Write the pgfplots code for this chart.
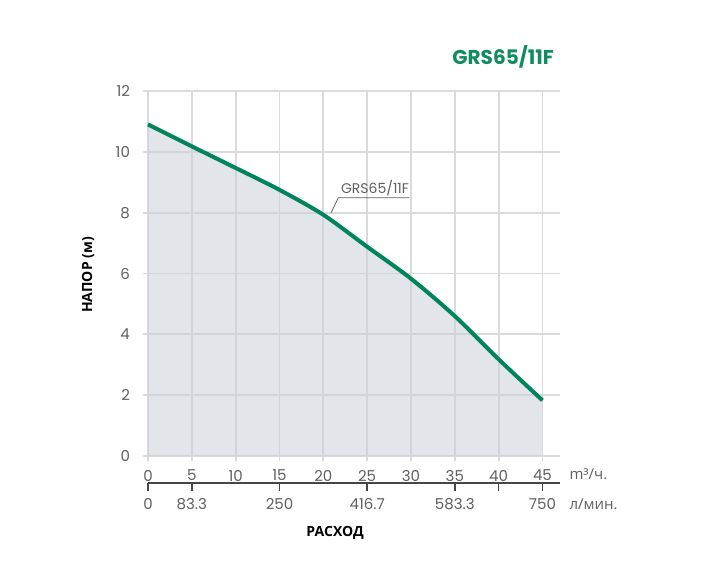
\documentclass[border=0pt]{standalone}
\usepackage{fontspec}
\setmainfont{Poppins}
\newfontfamily\cyr{Open Sans}
\usepackage{pgfplots}
\pgfplotsset{compat=1.18}
\definecolor{curvegreen}{RGB}{0,132,92}
\definecolor{titlegreen}{RGB}{16,140,96}
\definecolor{areafill}{RGB}{203,209,216}
\definecolor{gridgray}{RGB}{218,218,220}
\definecolor{labgray}{RGB}{95,95,95}
\definecolor{axisdark}{RGB}{70,70,70}

\begin{document}
\begin{tikzpicture}
\begin{axis}[
  at={(0,0)}, anchor=origin,
  scale only axis,
  width=206pt, height=182.5pt,
  xmin=0, xmax=47, ymin=0, ymax=12,
  xtick={0,5,10,15,20,25,30,35,40,45}, ytick={0,2,4,6,8,10,12},
  grid=major,
  grid style={gridgray, line width=0.9pt},
  axis line style={draw=none},
  tick style={gridgray, line width=0.9pt},
  tick align=outside, major tick length=2.5pt,
  tick pos=left,
  ticklabel style={font=\fontsize{7.5}{8}\selectfont, text=labgray},
  /pgf/number format/assume math mode=true,
  xticklabel style={yshift=-1pt},
  yticklabel style={xshift=-3pt},
  xlabel={\cyr\bfseries РАСХОД},
  xlabel style={at={(axis description cs:0.454,-0.211)}, anchor=center, font=\fontsize{7}{8}\selectfont},
  ylabel={\cyr\bfseries НАПОР (м)},
  ylabel style={at={(axis description cs:-0.145,0.496)}, anchor=center, font=\fontsize{7}{8}\selectfont},
  clip=false,
]
  % area under curve (semi-transparent so the grid shows through)
  \addplot[fill=areafill, fill opacity=0.56, draw=none, smooth] coordinates {
    (0,10.9) (5,10.18) (10,9.47) (15,8.75) (20,7.93) (25,6.88)
    (30,5.83) (35,4.6) (40,3.18) (45,1.83)
  } \closedcycle;
  % H-Q curve
  \addplot[curvegreen, line width=2pt, smooth] coordinates {
    (0,10.9) (5,10.18) (10,9.47) (15,8.75) (20,7.93) (25,6.88)
    (30,5.83) (35,4.6) (40,3.18) (45,1.83)
  };
  \node[font=\bfseries\fontsize{10}{11}\selectfont, text=titlegreen] at (axis description cs:0.862,1.093) {GRS65/11F};
  \node[font=\fontsize{7}{8}\selectfont, text=labgray] at (axis cs:25.9,8.82) {GRS65/11F};
  \draw[labgray, line width=0.4pt] (axis cs:29.8,8.49) -- (axis cs:21.7,8.49) -- (axis cs:20.9,8.0);
  \node[font=\cyr\fontsize{7.5}{8}\selectfont, text=labgray, anchor=west] at (axis cs:45,0) [xshift=10pt, yshift=-9pt] {m³/ч.};
  % second flow scale, l/min
  \draw[axisdark, line width=0.8pt] ([yshift=-13.5pt]axis cs:0,0) -- ([yshift=-13.5pt]axis cs:47,0);
  \pgfplotsinvokeforeach{0,5,15,25,35,40,45}{
    \draw[axisdark, line width=0.8pt] ([yshift=-13.5pt]axis cs:#1,0) -- ([yshift=-17.5pt]axis cs:#1,0);
  }
  \node[font=\fontsize{7.5}{8}\selectfont, text=labgray] at ([yshift=-24pt]axis cs:0,0) {0};
  \node[font=\fontsize{7.5}{8}\selectfont, text=labgray] at ([yshift=-24pt]axis cs:5,0) {83.3};
  \node[font=\fontsize{7.5}{8}\selectfont, text=labgray] at ([yshift=-24pt]axis cs:15,0) {250};
  \node[font=\fontsize{7.5}{8}\selectfont, text=labgray] at ([yshift=-24pt]axis cs:25,0) {416.7};
  \node[font=\fontsize{7.5}{8}\selectfont, text=labgray] at ([yshift=-24pt]axis cs:35,0) {583.3};
  \node[font=\fontsize{7.5}{8}\selectfont, text=labgray] at ([yshift=-24pt]axis cs:45,0) {750};
  \node[font=\cyr\fontsize{7.5}{8}\selectfont, text=labgray, anchor=west] at ([xshift=10pt, yshift=-24pt]axis cs:45,0) {л/мин.};
\end{axis}
\pgfresetboundingbox
\useasboundingbox (-74pt,-61.5pt) rectangle (277pt,228pt);
\end{tikzpicture}
\end{document}
